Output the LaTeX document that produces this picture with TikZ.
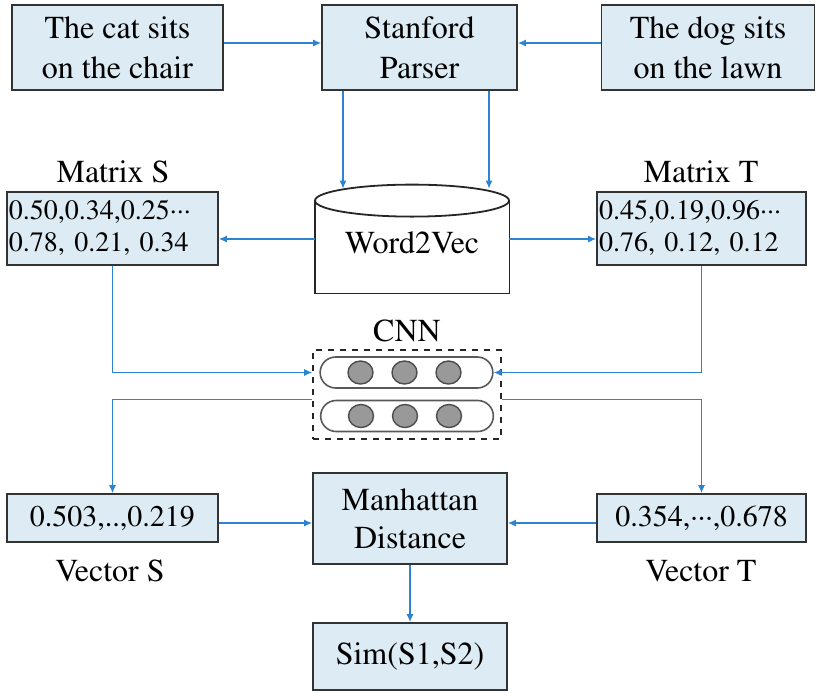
\documentclass[tikz,border=0pt]{standalone}
\usepackage[T1]{fontenc}
\usepackage{times}
\usetikzlibrary{calc,arrows.meta,shapes.geometric,shapes.misc}
\definecolor{boxblue}{RGB}{221,235,244}
\definecolor{linkblue}{RGB}{44,132,208}
\tikzset{
	txt/.style={font=\fontsize{16}{20}\selectfont},
	box/.style={txt, draw=black!80, line width=0.9pt, fill=boxblue, align=center, inner sep=1pt},
	numbox/.style={box, font=\fontsize{14}{16}\selectfont},
	link/.style={draw=linkblue, line width=0.6pt, -{Latex[length=4pt,width=3.5pt]}},
	pill/.style={rounded rectangle, draw=black!65, line width=0.8pt, fill=white, minimum width=93pt, minimum height=15.5pt},
	unit/.style={ellipse, draw=black!70, line width=0.7pt, fill=black!40, minimum width=12.5pt, minimum height=11.5pt, inner sep=0pt}
}
\newcommand{\mdots}{\textperiodcentered\textperiodcentered\textperiodcentered}

\begin{document}
\begin{tikzpicture}[x=0.5pt, y=-0.5pt]
			%%%%% START %%%%%
			\useasboundingbox (0, 0) rectangle (820, 692);
			
			\node[box, minimum width=105.5pt, minimum height=42.5pt] (cat) at (117.5, 47.5) {The cat sits\\on the chair};
			\node[box, minimum width=97.5pt, minimum height=42.5pt] (parser) at (419.5, 47.5) {Stanford\\Parser};
			\node[box, minimum width=106.5pt, minimum height=42.5pt] (dog) at (708, 47.5) {The dog sits\\on the lawn};
			
			% Word2Vec store: flat bottom, elliptic lid
			\node[minimum width=97pt, minimum height=46pt, inner sep=0pt] (w2v) at (412, 247) {};
			\draw[draw=black!85, line width=0.9pt] (w2v.north west) -- (w2v.south west) -- (w2v.south east) -- (w2v.north east);
			\draw[draw=black!85, line width=0.9pt, fill=white] (w2v.north) ellipse (97 and 16);
			\node[txt] (w2vtext) at ($(w2v.center)+(0, -4)$) {Word2Vec};
			\coordinate (w2vlid) at ($(w2v.north)+(0, -12)$);
			\coordinate (wl) at ($(w2v.west)+(0, -8)$);
			\coordinate (wr) at ($(w2v.east)+(0, -8)$);
			
			\node[txt] (mslabel) at (113, 172) {Matrix S};
			\node[numbox, align=left, text width=103.5pt, minimum height=36.5pt] (ms) at (112.5, 228.5) {0.50,0.34,0.25\mdots\\0.78, 0.21, 0.34};
			\node[txt] (mtlabel) at (701, 172) {Matrix T};
			\node[numbox, align=left, text width=102.5pt, minimum height=36.5pt] (mt) at (701.5, 228.5) {0.45,0.19,0.96\mdots\\0.76, 0.12, 0.12};
			
			\node[txt] (cnnlabel) at (407, 331) {CNN};
			\node[draw=black!85, dashed, line width=0.8pt, minimum width=94pt, minimum height=44.5pt] (cnn) at (407, 394.5) {};
			\node[pill] (pillA) at (406.5, 372.5) {};
			\node[pill] (pillB) at (407, 416) {};
			\foreach \p in {pillA, pillB}
				\foreach \dx/\n in {-46/1, -2/2, 42/3}
					\node[unit] (\p-\n) at ($(\p)+(\dx, 0)$) {};
			
			\node[box, font=\fontsize{15}{18}\selectfont, minimum width=105.5pt, minimum height=24pt] (vs) at (112.5, 518) {0.503,..,0.219};
			\node[txt] (vslabel) at (110, 571) {Vector S};
			\node[box, font=\fontsize{15}{18}\selectfont, minimum width=104.5pt, minimum height=24pt] (vt) at (701.5, 518) {0.354,\mdots,0.678};
			\node[txt] (vtlabel) at (701, 571) {Vector T};
			
			\node[box, font=\fontsize{16}{19}\selectfont, minimum width=97pt, minimum height=45.5pt] (md) at (410, 518.5) {Manhattan\\Distance};
			\node[box, minimum width=97pt, minimum height=33.5pt] (sim) at (410, 656.5) {Sim(S1,S2)};
			
			% sentences into the parser
			\coordinate (catout) at ($(cat.east)+(0, -4.5)$);
			\coordinate (dogout) at ($(dog.west)+(0, -4.5)$);
			\draw[link] (catout) -- (catout -| parser.west);
			\draw[link] (dogout) -- (dogout -| parser.east);
			\coordinate (pl) at ($(parser.south)+(-76.5, 0)$);
			\coordinate (pr) at ($(parser.south)+(69.5, 0)$);
			\draw[link] (pl) -- (pl |- w2vlid);
			\draw[link] (pr) -- (pr |- w2vlid);
			
			% word vectors
			\draw[link] (wl) -- (wl -| ms.east);
			\draw[link] (wr) -- (wr -| mt.west);
			\draw[link] (ms.south) |- (cnn.west |- pillA);
			\draw[link] (mt.south) |- (pillA.east);
			
			% sentence vectors
			\coordinate (cl) at ($(cnn.west)+(0, 5)$);
			\coordinate (cr) at ($(cnn.east)+(0, 5)$);
			\draw[link] (cl) -| (vs.north);
			\draw[link] (cr) -| (vt.north);
			\coordinate (vsout) at ($(vs.east)+(0, 5)$);
			\coordinate (vtout) at ($(vt.west)+(0, 5)$);
			\draw[link] (vsout) -- (vsout -| md.west);
			\draw[link] (vtout) -- (vtout -| md.east);
			\draw[link] (md) -- (sim);
			%%%%% END %%%%%
\end{tikzpicture}
\end{document}
